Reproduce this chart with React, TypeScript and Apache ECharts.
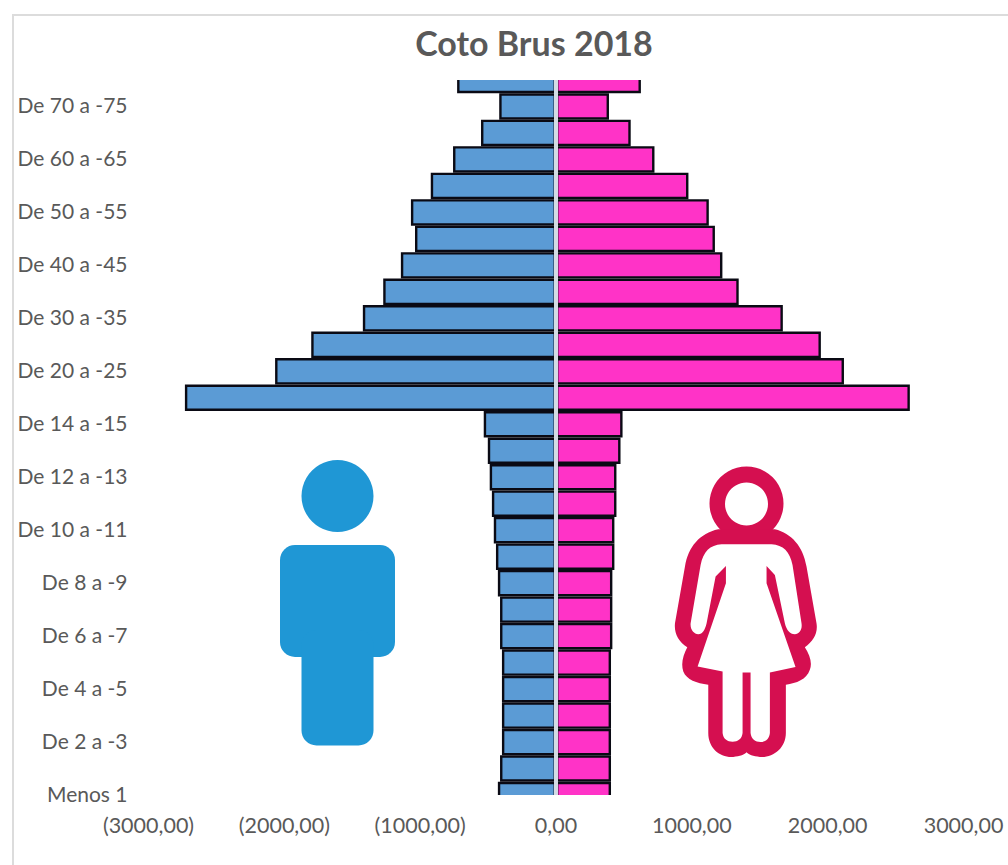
import React, { useEffect, useRef } from "react";
import * as echarts from "echarts";

const categories = [
  "Menos 1", "De 1 a -2", "De 2 a -3", "De 3 a -4", "De 4 a -5", "De 5 a -6", "De 6 a -7",
  "De 7 a -8", "De 8 a -9", "De 9 a -10", "De 10 a -11", "De 11 a -12", "De 12 a -13",
  "De 13 a -14", "De 14 a -15", "De 15 a -20", "De 20 a -25", "De 25 a -30", "De 30 a -35",
  "De 35 a -40", "De 40 a -45", "De 45 a -50", "De 50 a -55", "De 55 a -60", "De 60 a -65",
  "De 65 a -70", "De 70 a -75", "De 75 a -80",
];
const hombres = [428, 412, 398, 398, 398, 398, 412, 412, 428, 442, 458, 472, 488, 502, 532, 2732, 2068, 1802, 1422, 1272, 1142, 1038, 1068, 922, 758, 552, 418, 728];
const mujeres = [405, 405, 405, 405, 405, 405, 415, 415, 415, 430, 430, 445, 445, 475, 490, 2605, 2120, 1950, 1670, 1345, 1225, 1170, 1125, 975, 725, 550, 390, 625];

const FONT = "Lato";
const GREY = "#595959";

const womanBody =
  "M205 238 C150 250 115 290 105 350 L75 520 C72 550 85 575 112 592 C100 615 92 640 100 665 C110 690 140 700 175 705 L175 850 C175 895 210 925 250 922 C270 920 285 915 290 908 C295 915 310 920 330 922 C370 925 408 895 408 850 L408 705 C440 700 470 690 480 660 C488 640 480 615 465 592 C490 575 505 550 500 520 L470 350 C460 290 425 250 375 238 Z";
const womanInner =
  "M215 283 C180 285 160 305 152 345 L122 520 C120 540 132 553 145 553 C158 553 165 540 170 520 L197 380 L228 348 L228 400 L143 650 L218 665 L218 850 C220 868 232 876 248 876 C264 876 276 868 278 850 L278 668 L302 668 L302 850 C304 868 316 877 332 877 C348 877 358 868 360 850 L360 668 L437 652 L350 400 L350 348 L375 375 L405 520 C410 540 420 553 435 553 C448 553 458 540 455 520 L428 345 C420 305 400 285 365 283 Z";
echarts.graphic.registerShape("womanBody", echarts.graphic.extendPath(womanBody as any, {}) as any);
echarts.graphic.registerShape("womanInner", echarts.graphic.extendPath(womanInner as any, {}) as any);

export default function App() {
  const ref = useRef<HTMLDivElement>(null);
  useEffect(() => {
    document.body.style.margin = "0";
    const chart = echarts.init(ref.current!, null, { renderer: "svg" });
    const fmt = (v: number) => (v < 0 ? `(${Math.abs(v)},00)` : `${v},00`);
    const red = "#d50f50";
    const blue = "#1f97d5";
    const wt = { x: 650, y: 450, scaleX: 1 / 3, scaleY: 1 / 3 };
    chart.setOption({
      animation: false,
      backgroundColor: "#ffffff",
      title: {
        text: "Coto Brus 2018",
        left: 529,
        top: 20,
        textAlign: "center",
        textStyle: { fontFamily: FONT, fontSize: 34, fontWeight: "bold", color: GREY },
      },
      grid: { left: 148.5, right: 44.5, top: 80, bottom: 70, containLabel: false },
      xAxis: {
        type: "value",
        min: -3000,
        max: 3000,
        interval: 1000,
        axisLine: { show: false },
        axisTick: { show: false },
        splitLine: { show: false },
        axisLabel: {
          formatter: fmt,
          margin: 19,
          color: GREY,
          fontFamily: FONT,
          fontSize: 21.5,
          showMinLabel: true,
          showMaxLabel: true,
        },
      },
      yAxis: {
        type: "category",
        data: categories,
        boundaryGap: false,
        axisLine: { show: false, onZero: false },
        axisTick: { show: false },
        splitLine: { show: false },
        axisLabel: {
          interval: 1,
          margin: 21,
          verticalAlign: "bottom",
          lineHeight: 4,
          color: GREY,
          fontFamily: FONT,
          fontSize: 21,
        },
      },
      series: [
        {
          name: "Hombres",
          type: "bar",
          data: hombres.map((v) => -v),
          barWidth: "100%",
          barGap: "-100%",
          itemStyle: { color: "#5b9bd5", borderColor: "#0a0a14", borderWidth: 2.4 },
        },
        {
          name: "Mujeres",
          type: "bar",
          data: mujeres,
          barWidth: "100%",
          barGap: "-100%",
          itemStyle: { color: "#ff33c7", borderColor: "#0a0a14", borderWidth: 2.4 },
          markLine: {
            silent: true,
            symbol: "none",
            z: 8,
            label: { show: false },
            lineStyle: { color: "#d3dbe4", width: 4, type: "solid" },
            data: [{ xAxis: 0 }],
          },
        },
      ],
      graphic: [
        { type: "rect", silent: true, z: -1, shape: { x: 13, y: 15, width: 1010, height: 870 }, style: { fill: "#fff", stroke: "#dcdcdc", lineWidth: 2 } },
        { type: "rect", silent: true, z: 20, shape: { x: 300, y: 60, width: 500, height: 20 }, style: { fill: "#fff" } },
        { type: "rect", silent: true, z: 20, shape: { x: 300, y: 795, width: 500, height: 20 }, style: { fill: "#fff" } },
        { type: "circle", silent: true, shape: { cx: 337.5, cy: 496, r: 36 }, style: { fill: blue } },
        { type: "rect", silent: true, shape: { x: 280, y: 545, width: 115, height: 112, r: 15 }, style: { fill: blue } },
        { type: "rect", silent: true, shape: { x: 301.5, y: 630, width: 72, height: 115.5, r: 15 }, style: { fill: blue } },
        { type: "circle", silent: true, shape: { cx: 746.5, cy: 503.5, r: 37 }, style: { fill: red } },
        { type: "womanBody", silent: true, ...wt, style: { fill: red } },
        { type: "womanInner", silent: true, ...wt, style: { fill: "#ffffff" } },
        { type: "circle", silent: true, shape: { cx: 746.5, cy: 504, r: 21.5 }, style: { fill: "#ffffff" } },
      ],
    });
    return () => chart.dispose();
  }, []);
  return <div ref={ref} style={{ position: "absolute", left: 0, top: 0, width: 1008, height: 865 }} />;
}
